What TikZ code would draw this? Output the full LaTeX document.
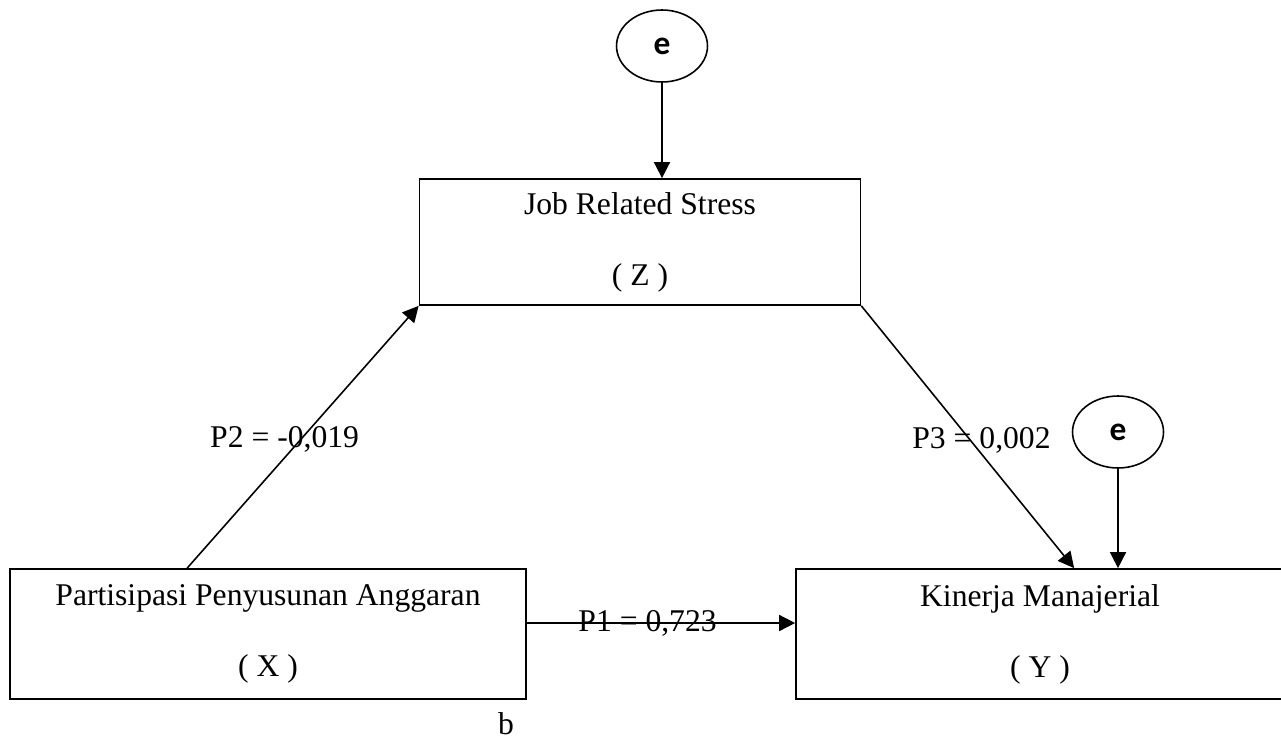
\documentclass[tikz,border=0pt]{standalone}
\usepackage{fontspec}
\setmainfont{Liberation Serif}
\newfontfamily\efont{Carlito}
\usetikzlibrary{positioning,arrows.meta,shapes.geometric}

\begin{document}
\begin{tikzpicture}[x=0.02cm,y=-0.02cm,
  var/.style={draw,line width=1pt,rectangle,align=center,font=\fontsize{18}{22}\selectfont},
  err/.style={draw,line width=0.9pt,ellipse,minimum width=1.82cm,minimum height=1.44cm,inner sep=0pt,font=\efont\bfseries\fontsize{19}{22}\selectfont},
  conn/.style={line width=0.9pt,-{Triangle[length=0.32cm,width=0.32cm]}},
  coef/.style={font=\fontsize{18}{22}\selectfont,inner sep=1pt}]
\useasboundingbox (0,0) rectangle (1281,740);
\clip (0,0) rectangle (1281,740);
% variables
\node[var,minimum width=8.82cm,minimum height=2.52cm] (z) at (640,242) {Job Related Stress\\[18.5pt]( Z )};
\node[var,minimum width=10.32cm,minimum height=2.6cm] (x) at (268,634) {Partisipasi Penyusunan Anggaran\\[18.5pt]( X )};
\node[var,minimum width=9.76cm,minimum height=2.6cm] (y) at (1040,634) {Kinerja Manajerial\\[18.5pt]( Y )};
% error terms
\node[err] (ez) at (662,46) {e};
\node[err] (ey) at (1118,432) {e};
\draw[conn] (ez.south) -- (ez.south |- z.north);
\draw[conn] (ey.south) -- (ey.south |- y.north);
% paths
\draw[conn] ([xshift=3.56cm]x.north west) -- (z.south west)
  node[coef,pos=0.49,xshift=-0.32cm] (p2) {P2 = -0,019};
\draw[conn] (z.south east) -- ([xshift=5.58cm]y.north west)
  node[coef,pos=0.513,xshift=0.22cm] (p3) {P3 = 0,002};
\draw[conn] ([yshift=0.22cm]x.east) -- ([yshift=0.22cm]y.west)
  node[coef,pos=0.45] (p1) {P1 = 0,723};
\node[coef] (b) at (506,724) {b};
\end{tikzpicture}
\end{document}
